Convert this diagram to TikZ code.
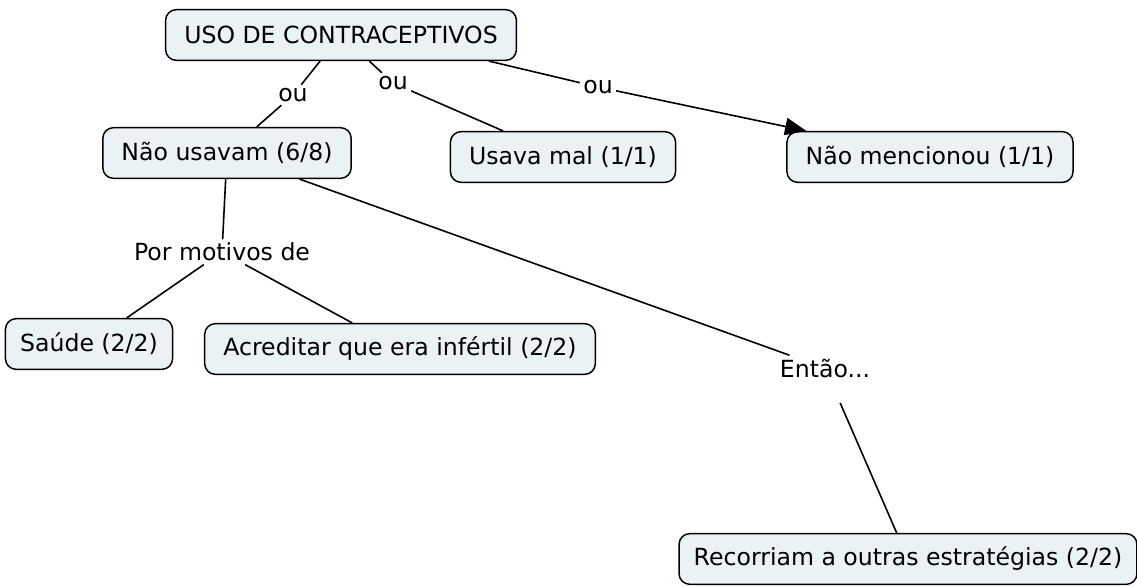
\documentclass[tikz,border=0pt]{standalone}
\usepackage{fontspec}
\setmainfont{DejaVu Sans}
\usetikzlibrary{positioning,arrows.meta}
\definecolor{conceptfill}{RGB}{234,242,246}

\begin{document}
\begin{tikzpicture}[x=0.75pt,y=-0.75pt,
  every node/.style={font=\fontsize{17.7}{21}\selectfont},
  concept/.style={draw,line width=1.1pt,fill=conceptfill,rounded corners=8pt,
    minimum height=38pt,inner xsep=14pt},
  link/.style={inner sep=2pt},
  every path/.style={line width=1.2pt}]
\useasboundingbox (0,0) rectangle (1137,586);

\node[concept] (uso) at (341,35) {USO DE CONTRACEPTIVOS};
\node[concept] (nusa) at (227,153) {Não usavam (6/8)};
\node[concept] (mal) at (563,157) {Usava mal (1/1)};
\node[concept] (nmen) at (930,157) {Não mencionou (1/1)};
\node[concept,inner xsep=11pt] (saude) at (89,344) {Saúde (2/2)};
\node[concept] (infert) at (400,349) {Acreditar que era infértil (2/2)};
\node[concept,inner xsep=11pt] (outras) at (908,559) {Recorriam a outras estratégias (2/2)};

\node[link] (ou1) at (293,95) {ou};
\node[link] (ou2) at (393,83) {ou};
\node[link] (ou3) at (598,87) {ou};
\node[link] (motivos) at (222,252) {Por motivos de};
\node[link] (entao) at (825,368) {Então...};

\draw (uso) -- (ou1) -- (nusa);
\draw (uso) -- (ou2) -- (mal);
\draw (uso.-10) -- (ou3);
\draw[-{Triangle[length=16pt,width=13pt]}] (ou3) -- (nmen);

\draw (nusa) -- (motivos);
\draw (motivos) -- (saude);
\draw (motivos) -- (infert);

\draw (nusa) -- (entao);
\draw[shorten <=18pt] (entao) -- (outras);

\end{tikzpicture}
\end{document}
